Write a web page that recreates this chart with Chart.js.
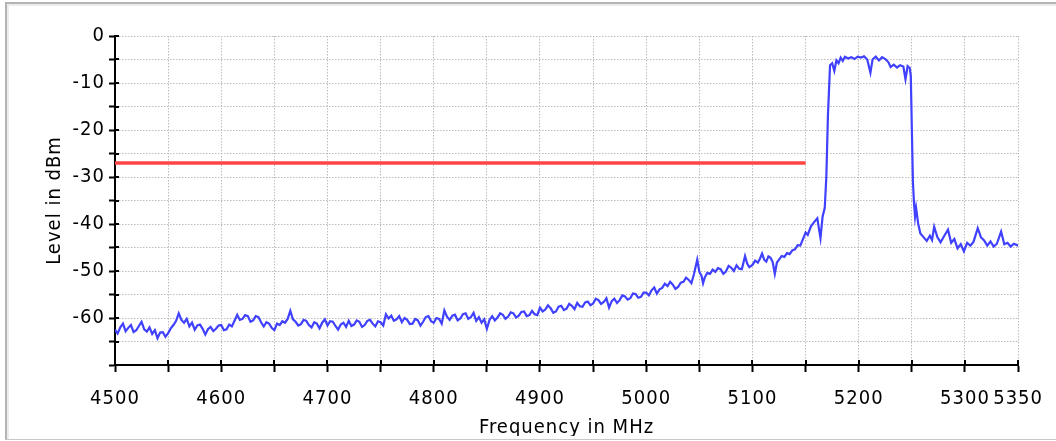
<!DOCTYPE html>
<html>
<head>
<meta charset="utf-8">
<script src="https://cdn.jsdelivr.net/npm/chart.js@4"></script>
<style>
  html, body { margin: 0; padding: 0; background: #fff; }
  #wrap { position: relative; width: 1056px; height: 441px; overflow: hidden; }
  #clip { position: absolute; left: 0; top: 0; width: 1056px; height: 436px; overflow: hidden; }
  #frame {
    position: absolute; left: 5px; top: 2px; width: 1060px; height: 435px;
    border-top: 2px solid #b4b4b4; border-left: 2px solid #b4b4b4; border-bottom: 1px solid #c8c8c8;
    box-shadow: inset 2px 2px 0 #ececec; pointer-events: none;
  }
</style>
</head>
<body>
<div id="wrap">
  <div id="clip"><canvas id="spectrum" width="1056" height="441"></canvas></div>
  <div id="frame"></div>
</div>
<script>
/* Spectrum trace (MHz / dBm) */
const freqMHz = [
  4500, 4502.5, 4505, 4507.5, 4510, 4512.5, 4515, 4517.5, 4520, 4522.5,
  4525, 4527.5, 4530, 4532.5, 4535, 4537.5, 4540, 4542.5, 4545, 4547.5,
  4550, 4552.5, 4555, 4557.5, 4560, 4562.5, 4565, 4567.5, 4570, 4572.5,
  4575, 4577.5, 4580, 4582.5, 4585, 4587.5, 4590, 4592.5, 4595, 4597.5,
  4600, 4602.5, 4605, 4607.5, 4610, 4612.5, 4615, 4617.5, 4620, 4622.5,
  4625, 4627.5, 4630, 4632.5, 4635, 4637.5, 4640, 4642.5, 4645, 4647.5,
  4650, 4652.5, 4655, 4657.5, 4660, 4662.5, 4665, 4667.5, 4670, 4672.5,
  4675, 4677.5, 4680, 4682.5, 4685, 4687.5, 4690, 4692.5, 4695, 4697.5,
  4700, 4702.5, 4705, 4707.5, 4710, 4712.5, 4715, 4717.5, 4720, 4722.5,
  4725, 4727.5, 4730, 4732.5, 4735, 4737.5, 4740, 4742.5, 4745, 4747.5,
  4750, 4752.5, 4755, 4757.5, 4760, 4762.5, 4765, 4767.5, 4770, 4772.5,
  4775, 4777.5, 4780, 4782.5, 4785, 4787.5, 4790, 4792.5, 4795, 4797.5,
  4800, 4802.5, 4805, 4807.5, 4810, 4812.5, 4815, 4817.5, 4820, 4822.5,
  4825, 4827.5, 4830, 4832.5, 4835, 4837.5, 4840, 4842.5, 4845, 4847.5,
  4850, 4852.5, 4855, 4857.5, 4860, 4862.5, 4865, 4867.5, 4870, 4872.5,
  4875, 4877.5, 4880, 4882.5, 4885, 4887.5, 4890, 4892.5, 4895, 4897.5,
  4900, 4902.5, 4905, 4907.5, 4910, 4912.5, 4915, 4917.5, 4920, 4922.5,
  4925, 4927.5, 4930, 4932.5, 4935, 4937.5, 4940, 4942.5, 4945, 4947.5,
  4950, 4952.5, 4955, 4957.5, 4960, 4962.5, 4965, 4967.5, 4970, 4972.5,
  4975, 4977.5, 4980, 4982.5, 4985, 4987.5, 4990, 4992.5, 4995, 4997.5,
  5000, 5002.5, 5005, 5007.5, 5010, 5012.5, 5015, 5017.5, 5020, 5022.5,
  5025, 5027.5, 5030, 5032.5, 5035, 5037.5, 5040, 5042.5, 5045, 5048,
  5050, 5052, 5053.5, 5055, 5057.5, 5060, 5062.5, 5065, 5067.5, 5070,
  5072.5, 5075, 5077.5, 5080, 5082.5, 5085, 5087.5, 5090, 5093, 5095,
  5097, 5100, 5102.5, 5105, 5107, 5109, 5111, 5113, 5115, 5117,
  5119, 5121, 5123, 5125, 5127.5, 5130, 5132.5, 5135, 5137.5, 5140,
  5142.5, 5145, 5147.5, 5150, 5152, 5155, 5158, 5161, 5164, 5166,
  5168, 5169.5, 5171, 5173, 5175, 5177, 5179, 5181, 5183, 5185,
  5187, 5190, 5193, 5196, 5199, 5202, 5205, 5208, 5211, 5213,
  5216, 5219, 5222, 5225, 5228, 5230, 5233, 5236, 5239, 5242,
  5244, 5246, 5248, 5249, 5250, 5251, 5252, 5253, 5254, 5256,
  5258, 5261, 5264, 5267, 5269, 5271, 5274, 5277, 5280, 5284,
  5287, 5290, 5293, 5296, 5299, 5302, 5305, 5308, 5312, 5315,
  5318, 5321, 5324, 5327, 5330, 5334, 5337, 5340, 5343, 5346,
  5350
];
const levelDbm = [
  -62.5, -63.3, -62.0, -61.2, -62.8, -62.1, -61.5, -63.0, -62.6, -61.7,
  -60.8, -62.4, -62.9, -62.0, -63.4, -62.6, -64.3, -63.1, -63.0, -64.0,
  -63.2, -62.2, -61.5, -60.6, -59.0, -60.4, -61.0, -60.2, -61.8, -61.0,
  -62.5, -61.6, -61.4, -62.3, -63.5, -62.4, -61.9, -62.8, -62.3, -61.6,
  -61.5, -62.6, -62.4, -61.4, -61.8, -60.6, -59.3, -60.4, -60.2, -59.4,
  -59.6, -60.8, -60.5, -59.6, -59.8, -60.9, -61.8, -60.9, -61.2, -62.1,
  -62.6, -61.2, -61.5, -60.7, -61.0, -60.2, -58.5, -60.3, -60.8, -61.6,
  -61.3, -60.4, -60.6, -61.5, -62.0, -60.9, -61.2, -62.2, -61.0, -60.3,
  -61.6, -60.7, -60.8, -61.7, -62.5, -61.4, -61.0, -61.9, -60.6, -61.7,
  -61.4, -60.5, -60.8, -61.9, -61.5, -60.6, -60.4, -61.2, -61.8, -60.7,
  -60.9, -61.6, -59.2, -60.1, -59.5, -60.6, -60.3, -59.6, -60.9, -60.0,
  -60.4, -61.3, -61.2, -60.2, -60.5, -61.6, -60.8, -59.8, -59.6, -60.7,
  -61.0, -60.0, -60.2, -61.2, -58.4, -59.7, -60.4, -59.5, -59.3, -60.5,
  -60.1, -59.2, -59.0, -60.2, -59.8, -58.9, -60.6, -59.8, -61.0, -60.3,
  -62.3, -60.4, -59.6, -60.5, -59.9, -59.0, -59.3, -60.2, -59.7, -58.8,
  -59.0, -59.9, -59.5, -58.7, -58.6, -59.6, -59.4, -58.5, -59.2, -59.4,
  -57.8, -58.6, -58.2, -57.3, -57.9, -58.9, -58.6, -57.6, -57.4, -58.3,
  -58.0, -57.0, -57.4, -58.1, -56.8, -57.5, -57.6, -56.7, -56.5, -57.3,
  -56.9, -55.9, -56.2, -57.0, -56.6, -55.8, -57.8, -56.4, -55.9, -56.8,
  -56.2, -55.2, -55.4, -56.1, -55.8, -54.8, -54.9, -55.7, -55.5, -54.6,
  -54.6, -55.2, -54.1, -53.5, -54.8, -53.9, -53.6, -52.7, -53.2, -52.3,
  -52.9, -53.8, -53.4, -52.5, -52.3, -51.4, -51.9, -52.6, -50.6, -47.6,
  -50.2, -51.0, -52.6, -51.4, -50.4, -50.6, -49.7, -50.2, -49.4, -49.6,
  -50.6, -50.1, -48.9, -49.3, -50.0, -48.8, -49.5, -49.6, -46.8, -48.4,
  -49.2, -48.7, -47.8, -48.2, -47.4, -46.3, -47.6, -48.0, -46.9, -47.2,
  -48.1, -50.6, -48.2, -47.6, -46.8, -47.0, -46.2, -46.4, -45.6, -45.4,
  -44.5, -44.6, -43.2, -41.8, -42.3, -40.5, -39.6, -38.8, -43.0, -38.4,
  -36.6, -30.0, -17.0, -6.2, -5.8, -7.4, -5.2, -5.8, -4.6, -5.3,
  -4.4, -4.8, -4.5, -4.9, -4.4, -4.6, -4.3, -5.0, -7.8, -5.0,
  -4.4, -5.2, -4.5, -4.9, -5.6, -6.6, -6.1, -6.7, -6.2, -6.5,
  -9.2, -6.4, -6.8, -8.5, -20.0, -31.0, -35.5, -38.4, -36.6, -40.0,
  -42.0, -42.8, -43.6, -42.5, -43.4, -40.6, -42.8, -43.9, -42.7, -41.2,
  -44.0, -43.2, -45.2, -44.3, -45.8, -44.0, -44.6, -43.8, -40.9, -42.8,
  -43.5, -44.6, -43.7, -44.8, -44.2, -41.6, -44.3, -44.0, -44.8, -44.2,
  -44.6
];

/* Limit line */
const limitFreqMHz = [4500, 5150];
const limitDbm = [-27, -27];

/* Axes */
const xMin = 4500, xMax = 5350, xStep = 50;
const yMin = -70, yMax = 0, yStep = 5;
const xLabelTicks = [4500, 4600, 4700, 4800, 4900, 5000, 5100, 5200, 5300, 5350];
const yLabelTicks = [0, -10, -20, -30, -40, -50, -60];

(function () {
  const FONT = { family: "'Liberation Sans Narrow', 'DejaVu Sans Condensed', sans-serif", size: 20 };
  const GRID = "#bdbdbd";

  // solid tick marks that cross into the plot area
  const innerTicks = {
    id: "innerTicks",
    beforeDraw(chart) {
      chart.ctx.letterSpacing = "1px";
    },
    afterDraw(chart) {
      const { ctx, chartArea, scales } = chart;
      ctx.save();
      ctx.strokeStyle = "#000";
      ctx.lineWidth = 2;
      ctx.beginPath();
      scales.x.ticks.forEach(function (t) {
        const px = Math.round(scales.x.getPixelForValue(t.value));
        ctx.moveTo(px, chartArea.bottom);
        ctx.lineTo(px, chartArea.bottom - 5);
      });
      scales.y.ticks.forEach(function (t) {
        const py = Math.round(scales.y.getPixelForValue(t.value));
        ctx.moveTo(chartArea.left, py);
        ctx.lineTo(chartArea.left + 4, py);
      });
      ctx.stroke();
      ctx.restore();
    },
  };

  const trace = freqMHz.map(function (f, i) { return { x: f, y: levelDbm[i] }; });
  const limit = limitFreqMHz.map(function (f, i) { return { x: f, y: limitDbm[i] }; });

  new Chart(document.getElementById("spectrum"), {
    type: "line",
    data: {
      datasets: [
        { data: limit, borderColor: "rgb(255,68,68)", borderWidth: 3.5, pointRadius: 0, tension: 0 },
        { data: trace, borderColor: "rgb(64,64,255)", borderWidth: 2.2, pointRadius: 0, tension: 0 },
      ],
    },
    options: {
      responsive: false,
      animation: false,
      devicePixelRatio: 1,
      layout: { padding: { left: 0, top: 36, right: 36, bottom: 0 } },
      plugins: { legend: { display: false }, tooltip: { enabled: false } },
      scales: {
        x: {
          type: "linear",
          min: xMin,
          max: xMax,
          afterFit: function (s) { s.height = 76; },
          afterBuildTicks: function (s) {
            const t = [];
            for (let v = xMin; v <= xMax; v += xStep) t.push({ value: v });
            s.ticks = t;
          },
          ticks: {
            color: "#000",
            font: FONT,
            padding: 15,
            maxRotation: 0,
            autoSkip: false,
            callback: function (v) { return xLabelTicks.indexOf(v) >= 0 ? String(v) : ""; },
          },
          grid: { color: GRID, lineWidth: 1, tickLength: 7, tickColor: "#000", tickWidth: 2 },
          border: { display: true, color: "#000", width: 2, dash: [1.5, 1.5] },
          title: { display: true, text: "Frequency in MHz", color: "#000", font: FONT, padding: { top: 0, bottom: 1 } },
        },
        y: {
          type: "linear",
          min: yMin,
          max: yMax,
          afterFit: function (s) { s.width = 115; },
          afterBuildTicks: function (s) {
            const t = [];
            for (let v = yMax; v >= yMin; v -= yStep) t.push({ value: v });
            s.ticks = t;
          },
          ticks: {
            color: "#000",
            font: FONT,
            padding: 4,
            autoSkip: false,
            callback: function (v) { return yLabelTicks.indexOf(v) >= 0 ? String(v) : ""; },
          },
          grid: { color: GRID, lineWidth: 1, tickLength: 6, tickColor: "#000", tickWidth: 2 },
          border: { display: true, color: "#000", width: 2, dash: [1.5, 1.5] },
          title: { display: true, text: "Level in dBm", color: "#000", font: FONT, padding: { top: 43, bottom: 0 } },
        },
      },
    },
    plugins: [innerTicks],
  });
})();
</script>
</body>
</html>
